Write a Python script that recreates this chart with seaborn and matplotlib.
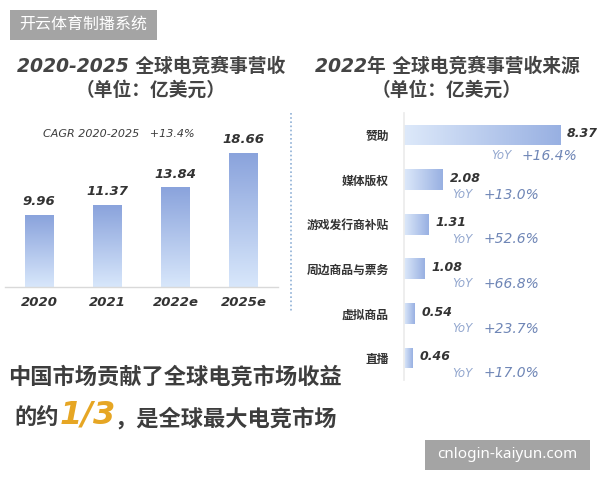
import numpy as np
import pandas as pd
import matplotlib
matplotlib.use('Agg')
import matplotlib.pyplot as plt
from matplotlib.colors import LinearSegmentedColormap
from matplotlib.patches import Rectangle
from matplotlib.lines import Line2D
import seaborn as sns

# left chart: global esports revenue (100M USD)
years = ['2020', '2021', '2022e', '2025e']
revenue = [9.96, 11.37, 13.84, 18.66]

# right chart: 2022 revenue by source
sources = ['赞助', '媒体版权', '游戏发行商补贴', '周边商品与票务', '虚拟商品', '直播']
source_rev = [8.37, 2.08, 1.31, 1.08, 0.54, 0.46]
yoy = ['+16.4%', '+13.0%', '+52.6%', '+66.8%', '+23.7%', '+17.0%']

sns.set_theme(style='white')
plt.rcParams['font.family'] = ['DejaVu Sans', 'Noto Sans CJK SC']

W, H = 600, 480
fig = plt.figure(figsize=(6, 4.8), dpi=100)


def px(x, y, w, h):
    # pixel box with top-left origin -> figure fraction
    return [x / W, 1 - (y + h) / H, w / W, h / H]


def fx(x):
    return x / W


def fy(y):
    return 1 - y / H


dark = '#3c3c3c'
blue_txt = '#6f86b6'
yoy_c = '#94a8cf'
cmap_v = LinearSegmentedColormap.from_list('v', ['#d8e7fb', '#8aa3dc'])
cmap_h = LinearSegmentedColormap.from_list('h', ['#dde9fa', '#98b0e2'])

# ---- left bar chart
df_l = pd.DataFrame({'year': years, 'rev': revenue})
ax1 = fig.add_axes(px(4.8, 120, 273, 166.7))
sns.barplot(data=df_l, x='year', y='rev', ax=ax1, width=0.42, color='#b0c4ea')
grad = np.linspace(1, 0, 256).reshape(-1, 1)
for p in ax1.patches:
    x0, y0 = p.get_x(), p.get_y()
    im = ax1.imshow(grad, cmap=cmap_v, aspect='auto', origin='upper',
                    extent=[x0, x0 + p.get_width(), y0, y0 + p.get_height()], zorder=2)
    im.set_clip_path(p)
    p.set_facecolor('none')
    p.set_edgecolor('none')
ax1.set_xlim(-0.5, 3.5)
ax1.set_ylim(0, 23.25)
for i, v in enumerate(revenue):
    ax1.annotate(f'{v:.2f}', (i, v), xytext=(0, 5), textcoords='offset points',
                 ha='center', va='bottom', fontsize=9.5, fontweight='bold',
                 fontstyle='italic', color='#333333')
ax1.set_xlabel('')
ax1.set_ylabel('')
ax1.set_yticks([])
ax1.tick_params(axis='x', length=0, pad=7, labelsize=9.5, labelcolor='#333333')
for t in ax1.get_xticklabels():
    t.set_fontweight('bold')
    t.set_fontstyle('italic')
for s in ['top', 'right', 'left']:
    ax1.spines[s].set_visible(False)
ax1.spines['bottom'].set_color('#d9d9d9')
ax1.spines['bottom'].set_linewidth(1)
ax1.patch.set_alpha(0)

fig.text(fx(43), fy(134), 'CAGR 2020-2025   +13.4%', fontsize=8,
         fontstyle='italic', color=dark, va='center', ha='left')

# ---- right bar chart
df_r = pd.DataFrame({'src': sources, 'rev': source_rev})
ax2 = fig.add_axes(px(404, 112.7, 186, 267.6))
sns.barplot(data=df_r, y='src', x='rev', ax=ax2, width=0.47, color='#b0c4ea', orient='h')
gradh = np.linspace(0, 1, 256).reshape(1, -1)
for p in ax2.patches:
    x0, y0 = p.get_x(), p.get_y()
    im = ax2.imshow(gradh, cmap=cmap_h, aspect='auto',
                    extent=[x0, x0 + p.get_width(), y0 + p.get_height(), y0], zorder=2)
    im.set_clip_path(p)
    p.set_facecolor('none')
    p.set_edgecolor('none')
ax2.set_xlim(0, 186 / 18.64)
ax2.set_ylim(5.5, -0.5)
for i, (v, g) in enumerate(zip(source_rev, yoy)):
    ax2.text(v + 0.38, i - 0.03, f'{v:.2f}', ha='left', va='center', fontsize=9,
             fontweight='bold', fontstyle='italic', color='#333333', clip_on=False)
    xy = max(2.6, v - 3.7)
    dy = 0.47 if xy < v else 0.34
    ax2.text(xy, i + dy, 'YoY', ha='left', va='center', fontsize=8.5,
             fontstyle='italic', color=yoy_c)
    ax2.text(xy + 1.65, i + dy, g, ha='left', va='center', fontsize=10,
             fontstyle='italic', color=blue_txt)
ax2.set_xlabel('')
ax2.set_ylabel('')
ax2.set_xticks([])
ax2.tick_params(axis='y', length=0, pad=11, labelsize=8.5, labelcolor='#333333')
for t in ax2.get_yticklabels():
    t.set_fontweight('bold')
    t.set_fontstyle('italic')
for s in ['top', 'right', 'bottom']:
    ax2.spines[s].set_visible(False)
ax2.spines['left'].set_color('#ececec')
ax2.patch.set_alpha(0)

# ---- titles
for cx, lines in [(151, ['2020-2025 全球电竞赛事营收', '（单位：亿美元）']),
                  (447, ['2022年 全球电竞赛事营收来源', '（单位：亿美元）'])]:
    fig.text(fx(cx), fy(66), lines[0], ha='center', va='center', fontsize=13.5,
             fontweight='bold', fontstyle='italic', color='#444444')
    fig.text(fx(cx), fy(90), lines[1], ha='center', va='center', fontsize=13.5,
             fontweight='bold', fontstyle='italic', color='#444444')

# divider between the two charts
fig.add_artist(Line2D([fx(291), fx(291)], [fy(113), fy(312)], transform=fig.transFigure,
                      color='#8fb0d6', linestyle=(0, (1, 1.5)), linewidth=1.2))

# ---- bottom message
fig.text(fx(8), fy(377), '中国市场贡献了全球电竞市场收益', ha='left', va='center',
         fontsize=16, fontweight='bold', color='#3d3d3d')
fig.canvas.draw()
r = fig.canvas.get_renderer()
t1 = fig.text(fx(14), fy(418), '的约', ha='left', va='center', fontsize=16,
              fontweight='bold', color='#3d3d3d')
bb = t1.get_window_extent(r)
t2 = fig.text(bb.x1 / W + 0.002, fy(415), '1/3', ha='left', va='center', fontsize=23,
              fontstyle='italic', fontweight='bold', color='#e6a624')
bb = t2.get_window_extent(r)
fig.text(bb.x1 / W - 0.002, fy(418), '，是全球最大电竞市场', ha='left', va='center',
         fontsize=16, fontweight='bold', color='#3d3d3d')

# ---- watermark boxes
fig.add_artist(Rectangle((fx(10), fy(40)), 147 / W, 30 / H, transform=fig.transFigure,
                         facecolor='#a4a4a4', edgecolor='none'))
fig.text(fx(83.5), fy(25), '开云体育制播系统', ha='center', va='center', fontsize=11.5,
         color='white', family=['Noto Sans CJK SC'])
fig.add_artist(Rectangle((fx(425), fy(470)), 165 / W, 30 / H, transform=fig.transFigure,
                         facecolor='#a4a4a4', edgecolor='none'))
fig.text(fx(507.5), fy(455), 'cnlogin-kaiyun.com', ha='center', va='center', fontsize=11,
         color='white', family=['Noto Sans'])

fig.savefig('out.png', dpi=100)
